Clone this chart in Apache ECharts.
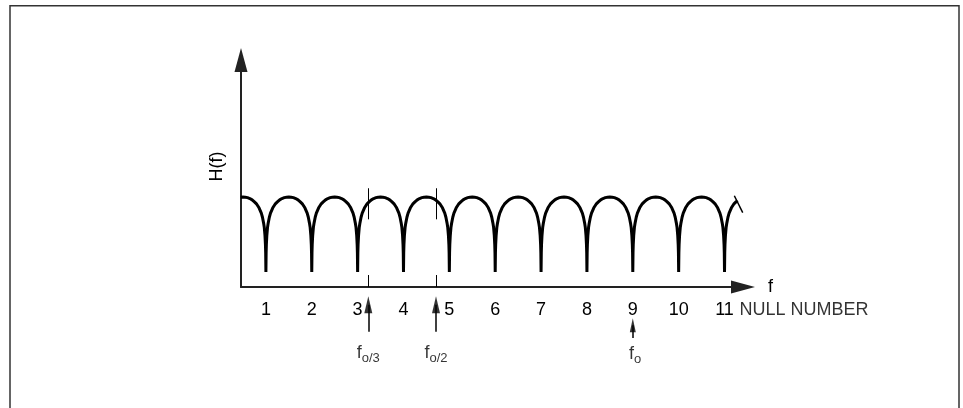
<!DOCTYPE html>
<html>
<head>
<meta charset="utf-8">
<script src="https://cdn.jsdelivr.net/npm/echarts@6/dist/echarts.min.js"></script>
<style>html,body{margin:0;padding:0;background:#fff;}#c{width:963px;height:408px;}</style>
</head>
<body>
<div id="c"></div>
<script>
// ---- data (x in "null number" units, y in arbitrary level units, peak = 10) ----
const nulls = [1, 2, 3, 4, 5, 6, 7, 8, 9, 10, 11];
const tickLabels = ['1', '2', '3', '4', '5', '6', '7', '8', '9', '10', '11'];
// half-arch profile: [distance from null (fraction of null spacing), level]
const archHalfProfile = [[0, 1.67], [0.005, 3.8], [0.01, 4.7], [0.02, 5.7], [0.035, 6.6], [0.05, 7.1],
  [0.075, 7.75], [0.1, 8.2], [0.15, 8.8], [0.2, 9.2], [0.25, 9.45], [0.3, 9.68], [0.35, 9.83],
  [0.4, 9.93], [0.45, 9.98], [0.5, 10]];
const curveStart = [0.45, 9.98];
const curveEnd = [11.28, 9.62];
const breakMark = [[11.214, 10.14], [11.397, 8.26]];
const markerX = [3.233, 4.709];          // f0/3 , f0/2 marker lines
const markerUpper = [10.97, 7.52];       // upper short line levels
const markerLower = [1.33, 0];           // short tick at the axis
const bigArrowShaft = [-4.97, -1.97];
const foX = 9;
const foArrowShaft = [-5.67, -4.26];
const annotLabels = [
  {x: 3.233, y: -7.5, sub: 'o/3'},
  {x: 4.709, y: -7.5, sub: 'o/2'},
  {x: 9.05, y: -7.6, sub: 'o'}
];
const axisNameX = 'f';
const axisNameY = 'H(f)';
const nullNumberText = 'NULL NUMBER';

const X_MIN = 0.457, X_MAX = 11.403, Y_MAX = 25.22;
const FONT = '"Liberation Sans", Arial, Helvetica, sans-serif';

// build the curve from the read profile
const curve = [curveStart];
nulls.forEach(function (k, i) {
  const last = i === nulls.length - 1;
  for (let j = archHalfProfile.length - 1; j >= 0; j--) {
    const p = archHalfProfile[j];
    if (i > 0 && p[0] === 0.5) continue;
    curve.push([k - p[0], p[1]]);
  }
  for (let j = 1; j < archHalfProfile.length; j++) {
    const p = archHalfProfile[j];
    if (last && p[0] > 0.25) break;
    curve.push([k + p[0], p[1]]);
  }
});
curve.push(curveEnd);

const segs = [];
markerX.forEach(function (x) {
  segs.push({coords: [[x, markerUpper[0]], [x, markerUpper[1]]], lineStyle: {width: 1}});
  segs.push({coords: [[x, markerLower[0]], [x, markerLower[1]]], lineStyle: {width: 1}});
  segs.push({coords: [[x, bigArrowShaft[0]], [x, bigArrowShaft[1]]], lineStyle: {width: 1.5}});
});
segs.push({coords: [[foX, foArrowShaft[0]], [foX, foArrowShaft[1]]], lineStyle: {width: 1.5}});
segs.push({coords: breakMark, lineStyle: {width: 1.5}});

const heads = markerX.map(function (x) { return {value: [x, bigArrowShaft[1]], symbolSize: [8, 17]}; });
heads.push({value: [foX, foArrowShaft[1]], symbolSize: [6, 14]});

const chart = echarts.init(document.getElementById('c'), null, {renderer: 'canvas'});
chart.setOption({
  animation: false,
  backgroundColor: '#fff',
  textStyle: {fontFamily: FONT},
  graphic: [{
    type: 'rect', z: 0,
    shape: {x: 10, y: 5.75, width: 949, height: 430},
    style: {fill: 'none', stroke: '#333', lineWidth: 1.5}
  }],
  grid: {left: 241, top: 60, width: 502, height: 227},
  xAxis: {
    type: 'value', min: X_MIN, max: X_MAX,
    axisLine: {show: true, symbol: ['none', 'triangle'], symbolSize: [13, 24], lineStyle: {color: '#222', width: 2}},
    axisTick: {show: false},
    splitLine: {show: false},
    axisLabel: {
      customValues: nulls, margin: 14, fontSize: 18, color: '#000', fontFamily: FONT,
      formatter: function (v) { const i = nulls.indexOf(v); return i >= 0 ? tickLabels[i] : ''; }
    },
    name: axisNameX, nameLocation: 'end', nameGap: 25,
    nameTextStyle: {fontSize: 18, color: '#000', fontFamily: FONT, padding: [0, 0, 2, 0]}
  },
  yAxis: {
    type: 'value', min: 0, max: Y_MAX,
    axisLine: {show: true, symbol: ['none', 'triangle'], symbolSize: [13, 24], lineStyle: {color: '#222', width: 2}},
    axisTick: {show: false}, axisLabel: {show: false}, splitLine: {show: false},
    name: axisNameY, nameLocation: 'middle', nameRotate: 90, nameGap: 15,
    nameTextStyle: {fontSize: 18, color: '#000', fontFamily: FONT, padding: [0, 0, 0, 14]}
  },
  series: [
    {
      type: 'line', data: curve, symbol: 'none', smooth: false, clip: true,
      lineStyle: {color: '#000', width: 3, join: 'bevel', cap: 'butt'}, z: 3
    },
    {
      type: 'lines', coordinateSystem: 'cartesian2d', clip: false, z: 4,
      lineStyle: {color: '#000', width: 1, opacity: 1, curveness: 0},
      symbol: 'none', data: segs
    },
    {
      type: 'scatter', clip: false, symbol: 'triangle', z: 5,
      itemStyle: {color: '#000'}, data: heads
    },
    {
      type: 'scatter', clip: false, symbolSize: 0, z: 5,
      data: annotLabels.map(function (a) { return {value: [a.x, a.y], sub: a.sub}; }),
      label: {
        show: true, position: 'inside', color: '#000',
        formatter: function (p) { return '{f|f}{s|' + annotLabels[p.dataIndex].sub + '}'; },
        rich: {
          f: {fontSize: 18, fontFamily: FONT, color: '#000', verticalAlign: 'bottom', padding: [0, 0, 3, 0]},
          s: {fontSize: 13, fontFamily: FONT, color: '#000', verticalAlign: 'bottom'}
        }
      }
    },
    {
      type: 'scatter', clip: false, symbolSize: 0, z: 5,
      data: [[nulls[nulls.length - 1], -2.6]],
      label: {
        show: true, position: 'inside', align: 'left', offset: [15, 0],
        fontSize: 18, fontFamily: FONT, color: '#000',
        formatter: function () { return nullNumberText; }
      }
    }
  ]
});
</script>
</body>
</html>
